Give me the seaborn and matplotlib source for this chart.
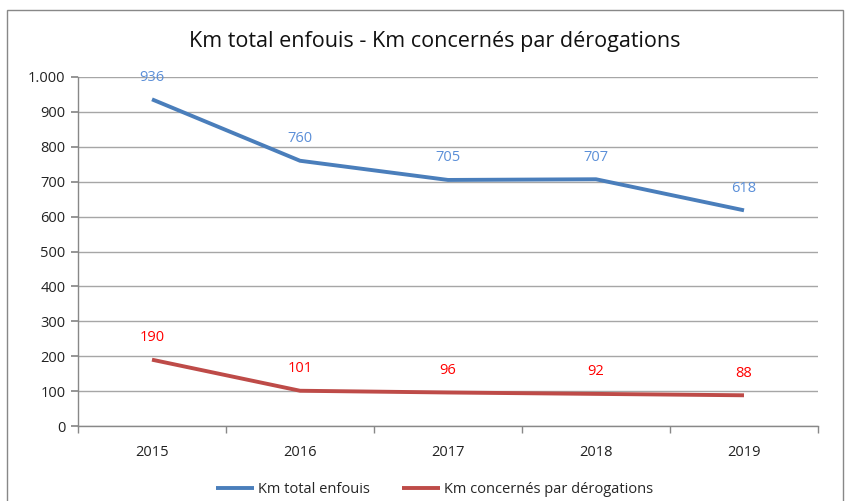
import matplotlib
matplotlib.use("Agg")
import matplotlib.pyplot as plt
import seaborn as sns
import pandas as pd
from matplotlib.patches import Rectangle
from matplotlib.ticker import FuncFormatter

years = ["2015", "2016", "2017", "2018", "2019"]
km_total = [936, 760, 705, 707, 618]
km_derog = [190, 101, 96, 92, 88]
series_names = ["Km total enfouis", "Km concernés par dérogations"]

sns.set_theme(style="white")
plt.rcParams['font.family'] = ['Open Sans', 'DejaVu Sans']

df = pd.DataFrame({
    "x": list(range(len(years))) * 2,
    "value": km_total + km_derog,
    "series": [series_names[0]] * len(years) + [series_names[1]] * len(years),
})

line_colors = {series_names[0]: "#4A7EBB", series_names[1]: "#BE4B48"}
label_colors = {series_names[0]: "#5B8FD8", series_names[1]: "#FF0000"}

fig = plt.figure(figsize=(8.46, 5.01), dpi=100)
ax = fig.add_axes([78/846, 1-426/501, (818-78)/846, (426-77)/501])

sns.lineplot(data=df, x="x", y="value", hue="series", palette=line_colors,
             linewidth=2.8, ax=ax, legend=True, solid_capstyle="butt")

ax.set_xlim(-0.5, len(years) - 0.5)
ax.set_ylim(0, 1000)
ax.set_yticks(range(0, 1001, 100))
ax.yaxis.set_major_formatter(FuncFormatter(lambda v, p: f"{int(v):,}".replace(",", ".")))
ax.set_xticks(range(len(years)))
ax.set_xticklabels(years)
ax.set_xticks([i + 0.5 for i in range(-1, len(years))], minor=True)
ax.tick_params(axis="x", which="major", length=0, pad=14, labelsize=10.5, colors="#222222")
ax.tick_params(axis="x", which="minor", length=5, color="#888888", direction="out", bottom=True)
ax.tick_params(axis="y", length=5, color="#888888", direction="out", left=True, labelsize=10.5, colors="#222222", pad=4)
ax.set_xlabel("")
ax.set_ylabel("")
ax.grid(axis="y", color="#A6A6A6", linewidth=1.0)
ax.set_axisbelow(True)
for s in ["top", "right"]:
    ax.spines[s].set_visible(False)
for s in ["left", "bottom"]:
    ax.spines[s].set_color("#888888")
    ax.spines[s].set_linewidth(1.0)

for name, vals in zip(series_names, [km_total, km_derog]):
    for i, v in enumerate(vals):
        ax.annotate(str(v), (i, v), xytext=(0, 16), textcoords="offset points",
                    ha="center", va="center", color=label_colors[name], fontsize=10.5)

handles, labels = ax.get_legend_handles_labels()
ax.legend(handles, labels, loc="upper center", bbox_to_anchor=(0.482, -0.122), ncol=2,
          frameon=False, fontsize=10.5, handlelength=2.6, columnspacing=2.2, handletextpad=0.3)

fig.text(435/846, 1 - 42/501, "Km total enfouis - Km concernés par dérogations",
         ha="center", va="center", fontsize=15.5, color="#111111")

fig.patches.append(Rectangle((7/846, -0.02), (843-7)/846, 1 - 10/501 + 0.02,
                             transform=fig.transFigure, fill=False,
                             edgecolor="#888888", linewidth=1.0))

fig.savefig("out.png", dpi=100)
